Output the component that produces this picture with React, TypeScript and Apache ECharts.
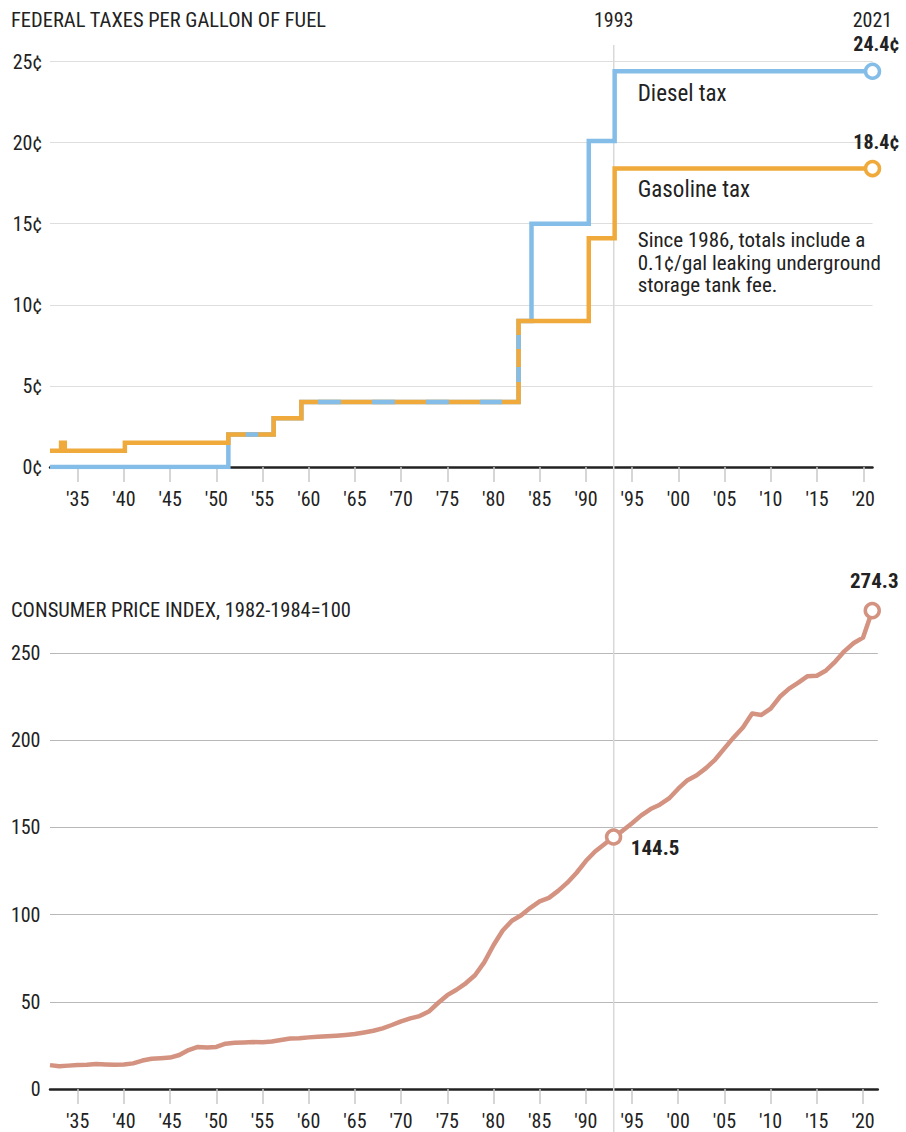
import React, { useEffect, useRef } from "react";
import * as echarts from "echarts";

const FONT = "'Liberation Sans Narrow', 'Roboto Condensed', 'DejaVu Sans Condensed', Roboto, sans-serif";
const TEXT = "#222222";
const BLUE = "#84bde8";
const ORANGE = "#f0a93b";
const CPI_COLOR = "#d49281";
const GRID_TOP = "#dedede";
const GRID_BOTTOM = "#b8b8b8";

// Federal taxes per gallon: year when a rate began, and the rate in cents
const gasolineYears = [1932, 1933.2, 1933.6, 1940.1, 1951.3, 1956.2, 1959.2, 1982.7, 1990.3, 1993.1, 2021];
const gasolineCents = [1, 1.5, 1, 1.5, 2, 3, 4, 9, 14.1, 18.4, 18.4];
const dieselYears = [1932, 1951.3, 1956.2, 1959.2, 1982.7, 1984.1, 1990.3, 1993.1, 2021];
const dieselCents = [0, 2, 3, 4, 9, 15, 20.1, 24.4, 24.4];

// Consumer price index, 1982-1984=100
const cpiYears = [
  1932, 1933, 1934, 1935, 1936, 1937, 1938, 1939, 1940, 1941,
  1942, 1943, 1944, 1945, 1946, 1947, 1948, 1949, 1950, 1951,
  1952, 1953, 1954, 1955, 1956, 1957, 1958, 1959, 1960, 1961,
  1962, 1963, 1964, 1965, 1966, 1967, 1968, 1969, 1970, 1971,
  1972, 1973, 1974, 1975, 1976, 1977, 1978, 1979, 1980, 1981,
  1982, 1983, 1984, 1985, 1986, 1987, 1988, 1989, 1990, 1991,
  1992, 1993, 1994, 1995, 1996, 1997, 1998, 1999, 2000, 2001,
  2002, 2003, 2004, 2005, 2006, 2007, 2008, 2009, 2010, 2011,
  2012, 2013, 2014, 2015, 2016, 2017, 2018, 2019, 2020, 2021,
];
const cpiValues = [
  13.7, 13.0, 13.4, 13.7, 13.9, 14.4, 14.1, 13.9, 14.0, 14.7,
  16.3, 17.3, 17.6, 18.0, 19.5, 22.3, 24.1, 23.8, 24.1, 26.0,
  26.5, 26.7, 26.9, 26.8, 27.2, 28.1, 28.9, 29.1, 29.6, 29.9,
  30.2, 30.6, 31.0, 31.5, 32.4, 33.4, 34.8, 36.7, 38.8, 40.5,
  41.8, 44.4, 49.3, 53.8, 56.9, 60.6, 65.2, 72.6, 82.4, 90.9,
  96.5, 99.6, 103.9, 107.6, 109.6, 113.6, 118.3, 124.0, 130.7, 136.2,
  140.3, 144.5, 148.2, 152.4, 156.9, 160.5, 163.0, 166.6, 172.2, 177.1,
  179.9, 184.0, 188.9, 195.3, 201.6, 207.3, 215.3, 214.5, 218.1, 224.9,
  229.6, 233.0, 236.7, 237.0, 240.0, 245.1, 251.1, 255.7, 258.8, 274.3,
];

const xTickYears = [1935, 1940, 1945, 1950, 1955, 1960, 1965, 1970, 1975, 1980, 1985, 1990, 1995, 2000, 2005, 2010, 2015, 2020];
const highlightYear = 1993;
const endYear = 2021;

const noteLines = [
  "Since 1986, totals include a",
  "0.1¢/gal leaking underground",
  "storage tank fee.",
];

// dash pattern (style) for the shared diesel/gasoline stretch, drawn in blue over the orange line
const SHARED_DASH = [0, 17.3, 12.6, 92.1, 23, 31, 23, 31, 23, 31, 22, 36.7, 15, 18, 14, 100];

function stepAt(xs: number[], ys: number[], x: number) {
  let v = ys[0];
  for (let i = 0; i < xs.length; i++) if (xs[i] <= x) v = ys[i];
  return v;
}

function overlapSegment() {
  const breaks = Array.from(new Set([...gasolineYears, ...dieselYears])).sort((a, b) => a - b);
  const pts: number[][] = [];
  for (const x of breaks) {
    const g = stepAt(gasolineYears, gasolineCents, x);
    const d = stepAt(dieselYears, dieselCents, x);
    if (g === d) pts.push([x, g]);
    else if (pts.length) {
      pts.push([x, pts[pts.length - 1][1]]);
      break;
    }
  }
  return pts;
}

function endMarker(point: number[], color: string, text: string, offset: number[]) {
  return {
    value: point,
    symbol: "circle",
    symbolSize: 14,
    itemStyle: { color: "#ffffff", borderColor: color, borderWidth: 3.5 },
    label: {
      show: true,
      position: "top",
      distance: 8,
      offset,
      formatter: text,
      fontFamily: FONT,
      fontSize: 20,
      fontWeight: "bold",
      color: TEXT,
    },
  };
}

export default function App() {
  const ref = useRef<HTMLDivElement>(null);

  useEffect(() => {
    if (!ref.current) return;
    const chart = echarts.init(ref.current, undefined, { renderer: "svg" });

    const dieselData: any[] = dieselYears.map((y, i) => [y, dieselCents[i]]);
    dieselData[dieselData.length - 1] = endMarker(
      dieselData[dieselData.length - 1],
      BLUE,
      `${dieselCents[dieselCents.length - 1]}¢`,
      [4, 0]
    );
    const gasData: any[] = gasolineYears.map((y, i) => [y, gasolineCents[i]]);
    gasData[gasData.length - 1] = endMarker(
      gasData[gasData.length - 1],
      ORANGE,
      `${gasolineCents[gasolineCents.length - 1]}¢`,
      [4, 0]
    );

    const lastCpi = cpiYears.length - 1;
    const cpiData: any[] = cpiYears.map((y, i) => {
      const v = [y, cpiValues[i]];
      if (y === highlightYear) {
        return {
          value: v,
          symbol: "circle",
          symbolSize: 14,
          itemStyle: { color: "#ffffff", borderColor: CPI_COLOR, borderWidth: 3.5 },
          label: {
            show: true,
            position: [26, 20],
            align: "left",
            verticalAlign: "middle",
            formatter: `${cpiValues[i]}`,
            fontFamily: FONT,
            fontSize: 21,
            fontWeight: "bold",
            color: TEXT,
          },
        };
      }
      if (i === lastCpi) {
        return {
          value: v,
          symbol: "circle",
          symbolSize: 14,
          itemStyle: { color: "#ffffff", borderColor: CPI_COLOR, borderWidth: 3.5 },
          label: {
            show: true,
            position: "top",
            distance: 10,
            offset: [2, 0],
            formatter: `${cpiValues[i]}`,
            fontFamily: FONT,
            fontSize: 21,
            fontWeight: "bold",
            color: TEXT,
          },
        };
      }
      return v;
    });

    const xAxisCommon = (gridIndex: number, max: number) => ({
      type: "value",
      gridIndex,
      min: 1932,
      max,
      axisLine: { show: true, onZero: false, lineStyle: { color: TEXT, width: 2.5 } },
      axisTick: { show: true, customValues: xTickYears, length: 15, lineStyle: { color: "#c8c8c8", width: 1.5 } },
      axisLabel: {
        customValues: xTickYears,
        margin: 22,
        formatter: (v: number) => "'" + String(v).slice(2),
        fontFamily: FONT,
        fontSize: 20,
        color: TEXT,
      },
      splitLine: { show: false },
    });

    chart.setOption({
      animation: false,
      backgroundColor: "#ffffff",
      grid: [
        { left: 50, top: 61.5, width: 822.5, height: 405.5 },
        { left: 50, top: 653, width: 827.8, height: 436 },
      ],
      xAxis: [xAxisCommon(0, endYear), xAxisCommon(1, 2021.6)],
      yAxis: [
        {
          type: "value",
          gridIndex: 0,
          min: 0,
          max: 25,
          interval: 5,
          axisLine: { show: false },
          axisTick: { show: false },
          axisLabel: { margin: 8, formatter: (v: number) => `${v}¢`, fontFamily: FONT, fontSize: 20, color: TEXT },
          splitLine: { show: true, lineStyle: { color: GRID_TOP, width: 1.2 } },
        },
        {
          type: "value",
          gridIndex: 1,
          min: 0,
          max: 250,
          interval: 50,
          axisLine: { show: false },
          axisTick: { show: false },
          axisLabel: { margin: 9.5, fontFamily: FONT, fontSize: 20, color: TEXT },
          splitLine: { show: true, lineStyle: { color: GRID_BOTTOM, width: 1.2 } },
        },
      ],
      series: [
        {
          name: "Diesel tax",
          type: "line",
          step: "end",
          xAxisIndex: 0,
          yAxisIndex: 0,
          data: dieselData,
          symbol: "none",
          lineStyle: { color: BLUE, width: 4.5, join: "miter" },
          z: 2,
          silent: true,
        },
        {
          name: "Gasoline tax",
          type: "line",
          step: "end",
          xAxisIndex: 0,
          yAxisIndex: 0,
          data: gasData,
          symbol: "none",
          lineStyle: { color: ORANGE, width: 4.5, join: "miter" },
          z: 3,
          silent: true,
        },
        {
          name: "Shared rate",
          type: "line",
          step: "end",
          xAxisIndex: 0,
          yAxisIndex: 0,
          data: overlapSegment(),
          symbol: "none",
          lineStyle: { color: BLUE, width: 4.5, type: SHARED_DASH, dashOffset: 0, cap: "butt", join: "miter" },
          z: 4,
          silent: true,
        },
        {
          name: "CPI",
          type: "line",
          xAxisIndex: 1,
          yAxisIndex: 1,
          data: cpiData,
          symbol: "none",
          clip: false,
          lineStyle: { color: CPI_COLOR, width: 4.5, join: "round" },
          z: 3,
          silent: true,
        },
      ],
    });

    const x93 = chart.convertToPixel({ xAxisIndex: 0 }, highlightYear) as number;
    const xEnd = chart.convertToPixel({ xAxisIndex: 0 }, endYear) as number;
    const yDiesel = chart.convertToPixel({ yAxisIndex: 0 }, dieselCents[dieselCents.length - 1]) as number;
    const yGas = chart.convertToPixel({ yAxisIndex: 0 }, gasolineCents[gasolineCents.length - 1]) as number;
    const labelX = x93 + 24;

    const textStyle = (extra: any) => ({ fontFamily: FONT, fontSize: 20, fill: TEXT, ...extra });

    chart.setOption({
      graphic: [
        {
          type: "line",
          z: 1,
          silent: true,
          shape: { x1: x93, y1: 45, x2: x93, y2: 1132 },
          style: { stroke: "#d8d8d8", lineWidth: 1.5 },
        },
        { type: "text", x: 11, y: 20, style: textStyle({ text: "FEDERAL TAXES PER GALLON OF FUEL", fontSize: 20.5, verticalAlign: "middle" }) },
        { type: "text", x: 11, y: 610, style: textStyle({ text: "CONSUMER PRICE INDEX, 1982-1984=100", fontSize: 20.5, verticalAlign: "middle" }) },
        { type: "text", x: x93, y: 20, style: textStyle({ text: String(highlightYear), align: "center", verticalAlign: "middle" }) },
        { type: "text", x: xEnd, y: 20, style: textStyle({ text: String(endYear), align: "center", verticalAlign: "middle" }) },
        { type: "text", x: labelX, y: yDiesel + 22, style: textStyle({ text: "Diesel tax", fontSize: 23, verticalAlign: "middle" }) },
        { type: "text", x: labelX, y: yGas + 21, style: textStyle({ text: "Gasoline tax", fontSize: 23, verticalAlign: "middle" }) },
        ...noteLines.map((line, i) => ({
          type: "text",
          x: labelX,
          y: 240 + i * 22.5,
          style: textStyle({ text: line, fontSize: 21, verticalAlign: "middle" }),
        })),
      ],
    });

    return () => chart.dispose();
  }, []);

  return <div ref={ref} style={{ position: "fixed", left: 0, top: 0, width: 906, height: 1132 }} />;
}
